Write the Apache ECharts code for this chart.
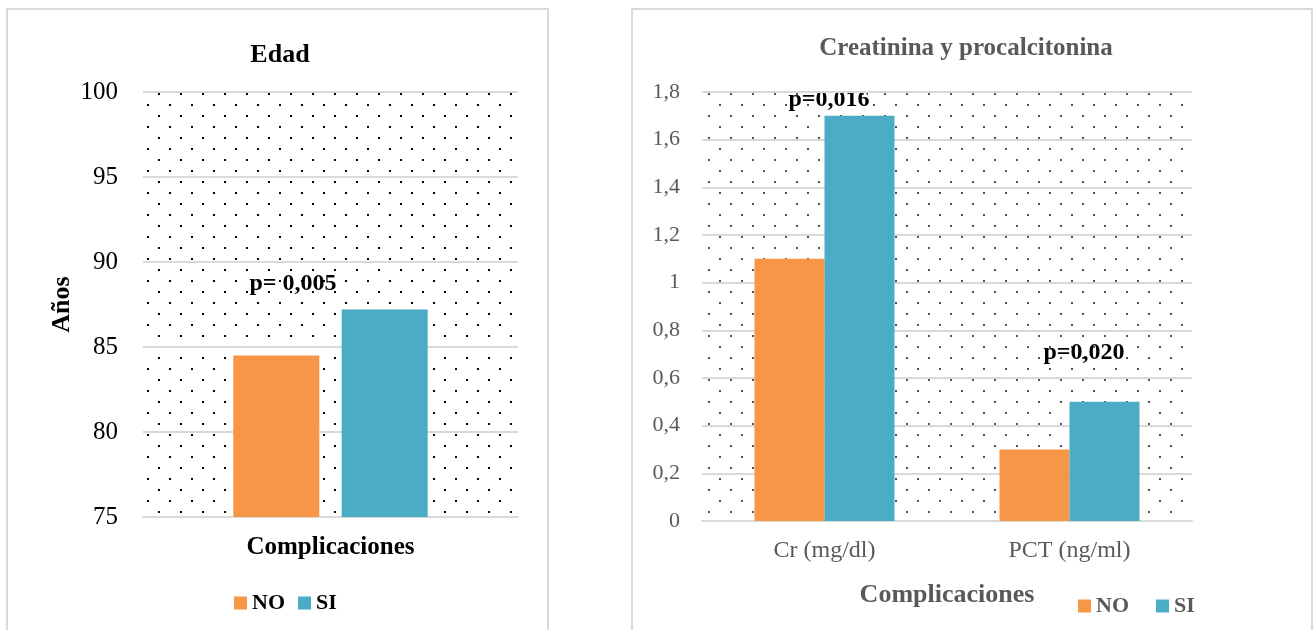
<!DOCTYPE html>
<html>
<head>
<meta charset="utf-8">
<script src="https://cdn.jsdelivr.net/npm/echarts@6/dist/echarts.min.js"></script>
<style>
  html, body { margin: 0; padding: 0; background: #fff; }
  #chart { width: 1316px; height: 630px; }
</style>
</head>
<body>
<div id="chart"></div>
<script>
// left panel: Edad
var edadCats = ['Edad'];
var edadNo = [84.5];
var edadSi = [87.2];
// right panel: Creatinina y procalcitonina
var labCats = ['Cr (mg/dl)', 'PCT (ng/ml)'];
var labNo = [1.1, 0.3];
var labSi = [1.7, 0.5];
var pEdad = 'p= 0,005';
var pCr = 'p=0,016';
var pPct = 'p=0,020';

var ORANGE = '#F79646', TEAL = '#4BACC6';
var SERIF = '"Liberation Serif", "DejaVu Serif", serif';

// dotted background tile
function dots(color) {
  var c = document.createElement('canvas');
  c.width = 22; c.height = 22;
  var g = c.getContext('2d');
  g.fillStyle = color;
  g.fillRect(4, 5, 2, 2);
  g.fillRect(15, 16, 2, 2);
  return { image: c, repeat: 'repeat' };
}

var chart = echarts.init(document.getElementById('chart'));

var option = {
  animation: false,
  title: [
    { text: 'Edad', left: 275, top: 37, textAlign: 'center',
      textStyle: { fontFamily: SERIF, fontSize: 26, fontWeight: 'bold', color: '#000' } },
    { text: 'Creatinina y procalcitonina', left: 961, top: 31, textAlign: 'center',
      textStyle: { fontFamily: SERIF, fontSize: 25, fontWeight: 'bold', color: '#595959' } }
  ],
  legend: [
    { data: ['NO', 'SI'], left: 229, top: 587, itemWidth: 13, itemHeight: 13, itemGap: 13,
      icon: 'rect', selectedMode: false,
      textStyle: { fontFamily: SERIF, fontSize: 22, fontWeight: 'bold', color: '#000' } },
    { data: ['NO', 'SI'], left: 1073, top: 590, itemWidth: 13, itemHeight: 13, itemGap: 27,
      icon: 'rect', selectedMode: false,
      textStyle: { fontFamily: SERIF, fontSize: 22, fontWeight: 'bold', color: '#595959' } }
  ],
  grid: [
    { left: 143, top: 92, width: 375, height: 425, show: true, borderWidth: 0,
      backgroundColor: dots('#000') },
    { left: 702, top: 92, width: 490, height: 429, show: true, borderWidth: 0,
      backgroundColor: dots('#555') }
  ],
  xAxis: [
    { type: 'category', gridIndex: 0, data: edadCats,
      axisLabel: { show: false }, axisTick: { show: false },
      axisLine: { lineStyle: { color: '#d9d9d9', width: 2 } },
      name: 'Complicaciones', nameLocation: 'middle', nameGap: 18,
      nameTextStyle: { fontFamily: SERIF, fontSize: 25, fontWeight: 'bold', color: '#000' } },
    { type: 'category', gridIndex: 1, data: labCats,
      axisTick: { show: false },
      axisLine: { lineStyle: { color: '#d9d9d9', width: 2 } },
      axisLabel: { fontFamily: SERIF, fontSize: 24, color: '#595959', margin: 18 },
      name: 'Complicaciones', nameLocation: 'middle', nameGap: 61,
      nameTextStyle: { fontFamily: SERIF, fontSize: 26, fontWeight: 'bold', color: '#595959' } }
  ],
  yAxis: [
    { type: 'value', gridIndex: 0, min: 75, max: 100, interval: 5,
      axisLine: { show: false }, axisTick: { show: false },
      splitLine: { lineStyle: { color: '#d9d9d9', width: 2 } },
      axisLabel: { fontFamily: SERIF, fontSize: 25, color: '#000', margin: 25 },
      name: 'Años', nameLocation: 'middle', nameRotate: 90, nameGap: 68,
      nameTextStyle: { fontFamily: SERIF, fontSize: 26, fontWeight: 'bold', color: '#000' } },
    { type: 'value', gridIndex: 1, min: 0, max: 1.8, interval: 0.2,
      axisLine: { show: false }, axisTick: { show: false },
      splitLine: { lineStyle: { color: '#d9d9d9', width: 2 } },
      axisLabel: { fontFamily: SERIF, fontSize: 22, color: '#595959', margin: 22,
        formatter: function (v) { return String(Math.round(v * 10) / 10).replace('.', ','); } } }
  ],
  series: [
    { name: 'NO', type: 'bar', xAxisIndex: 0, yAxisIndex: 0, data: edadNo,
      barWidth: 86, barGap: '26%', itemStyle: { color: ORANGE } },
    { name: 'SI', type: 'bar', xAxisIndex: 0, yAxisIndex: 0, data: edadSi,
      barWidth: 86, barGap: '26%', itemStyle: { color: TEAL } },
    { name: 'NO', type: 'bar', xAxisIndex: 1, yAxisIndex: 1, data: labNo,
      barWidth: 70, barGap: '0%', itemStyle: { color: ORANGE } },
    { name: 'SI', type: 'bar', xAxisIndex: 1, yAxisIndex: 1, data: labSi,
      barWidth: 70, barGap: '0%', itemStyle: { color: TEAL } }
  ],
  graphic: [
    { type: 'rect', shape: { x: 7, y: 9, width: 541, height: 640 }, silent: true,
      style: { fill: null, stroke: '#d9d9d9', lineWidth: 2 } },
    { type: 'rect', shape: { x: 632, y: 9, width: 680, height: 640 }, silent: true,
      style: { fill: null, stroke: '#d9d9d9', lineWidth: 2 } },
    { type: 'text', x: 293, y: 284, style: { text: pEdad, x: 0, y: 0, align: 'center', verticalAlign: 'middle',
      font: 'bold 24px ' + SERIF, fill: '#000' } },
    { type: 'text', x: 829, y: 100, style: { text: pCr, x: 0, y: 0, align: 'center', verticalAlign: 'middle',
      font: 'bold 24px ' + SERIF, fill: '#000' } },
    { type: 'text', x: 1084, y: 353, style: { text: pPct, x: 0, y: 0, align: 'center', verticalAlign: 'middle',
      font: 'bold 24px ' + SERIF, fill: '#000' } }
  ]
};

chart.setOption(option);
</script>
</body>
</html>
